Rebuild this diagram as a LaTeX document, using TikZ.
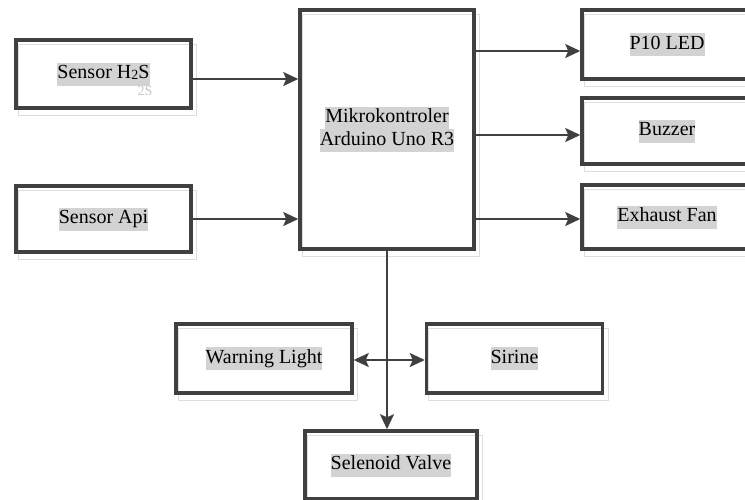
\documentclass[tikz,border=0pt]{standalone}
\usepackage{fontspec}
\setmainfont{Liberation Serif}
\newfontfamily\labelfont{Liberation Serif}
\usepackage{tikz}
\usetikzlibrary{positioning,arrows.meta,backgrounds}
\definecolor{lineDark}{HTML}{404040}
\definecolor{hlGray}{HTML}{D3D3D3}
\definecolor{ghostGray}{HTML}{DDDDDD}
\newcommand{\hlbox}[1]{{\setlength{\fboxsep}{0pt}\colorbox{hlGray}{\strut #1}}}

\begin{document}
\begin{tikzpicture}[
    x=1pt, y=-1pt,
    every node/.style = {font=\labelfont\fontsize{20}{23}\selectfont, align=center, inner sep=0pt},
    block/.style      = {draw=lineDark, line width=3.5pt},
    ghost/.style      = {draw=ghostGray, line width=1pt},
    arrow/.style      = {-{Stealth[length=15pt,width=14pt,inset=3pt]}, draw=lineDark, line width=2pt},
    dblarrow/.style   = {{Stealth[length=15pt,width=14pt,inset=3pt]}-{Stealth[length=15pt,width=14pt,inset=3pt]},
                         draw=lineDark, line width=2pt},
  ]
  \clip (0,0) rectangle (745,499);

  %% inputs
  \node[block, minimum width=175pt, minimum height=68pt] (sensorhs)  at (103.5,74) {\hlbox{Sensor H\raisebox{-1pt}{\fontsize{14}{14}\selectfont 2}S}};
  \node[block, minimum width=175pt, minimum height=66pt] (sensorapi) at (103.5,219) {\hlbox{Sensor Api}};
  \node[text=black!22, font=\labelfont\fontsize{14}{14}\selectfont] (ghosttxt) at (145,91) {2S};

  %% controller
  \node[block, minimum width=174pt, minimum height=239pt] (mcu) at (387,129.5)
    {\hlbox{Mikrokontroler}\\[-0.6pt]\hlbox{Arduino Uno R3}};

  %% outputs (right column)
  \node[block, minimum width=170pt, minimum height=69pt] (led)    at (667,44.5) {\hlbox{P10 LED}};
  \node[block, minimum width=170pt, minimum height=66pt] (buzzer) at (667,131)  {\hlbox{Buzzer}};
  \node[block, minimum width=170pt, minimum height=64pt] (fan)    at (667,217)  {\hlbox{Exhaust Fan}};

  %% outputs (bottom)
  \node[block, minimum width=176pt, minimum height=69pt] (warning) at (264,358.5) {\hlbox{Warning Light}};
  \node[block, minimum width=176pt, minimum height=69pt] (sirine)  at (514.5,358.5) {\hlbox{Sirine}};
  \node[block, minimum width=172pt, minimum height=68pt] (valve)   at (391,465) {\hlbox{Selenoid Valve}};

  %% faint copies behind each box
  \begin{scope}[on background layer]
    \foreach \n in {sensorhs,sensorapi,mcu,led,buzzer,fan,warning,sirine,valve}
      \draw[ghost] ([shift={(4,6)}]\n.north west) rectangle ([shift={(4,6)}]\n.south east);
  \end{scope}

  %% sensor -> controller
  \draw[arrow] ([yshift=-5pt]sensorhs.east) -- ([yshift=-5pt]sensorhs.east -| mcu.west);
  \draw[arrow] (sensorapi.east) -- (sensorapi.east -| mcu.west);

  %% controller -> right column
  \draw[arrow] ([yshift=-6.5pt]led.west -| mcu.east)    -- ([yshift=-6.5pt]led.west);
  \draw[arrow] ([yshift=-4pt]buzzer.west -| mcu.east) -- ([yshift=-4pt]buzzer.west);
  \draw[arrow] ([yshift=-2pt]fan.west -| mcu.east)    -- ([yshift=-2pt]fan.west);

  %% controller -> bottom
  \draw[arrow] (mcu.south) -- (mcu.south |- valve.north);
  \draw[dblarrow] ([yshift=-1.5pt]warning.east) -- ([yshift=-1.5pt]sirine.west);

\end{tikzpicture}
\end{document}
